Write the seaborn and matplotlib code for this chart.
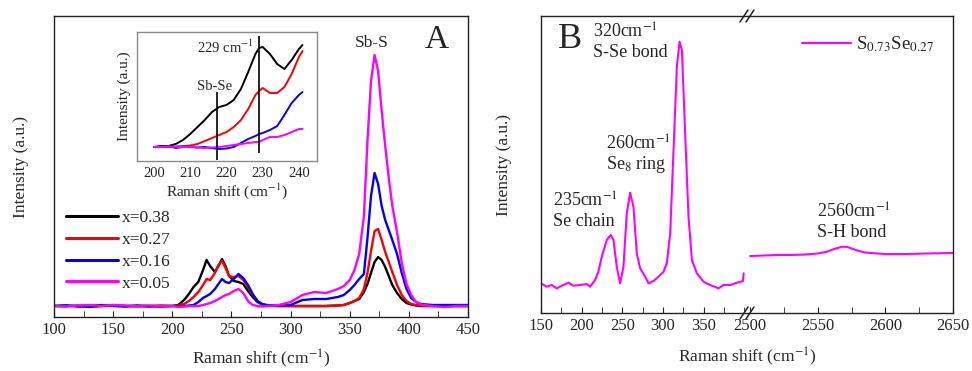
import numpy as np
import matplotlib
matplotlib.use('Agg')
import matplotlib.pyplot as plt
import seaborn as sns
from matplotlib.ticker import MultipleLocator

# ---- panel A data (Raman shift vs intensity, arbitrary units) ----
shift_a = [100, 110, 120, 130, 140, 150, 160, 170, 180, 190, 200, 205, 210, 214, 218, 222,
           226, 229, 232, 236, 239, 242, 245, 248, 252, 256, 260, 264, 268, 272, 276, 280,
           290, 300, 310, 320, 330, 340, 345, 350, 354, 358, 362, 365, 368, 371, 374, 377,
           380, 383, 386, 390, 394, 398, 402, 406, 410, 420, 430, 440, 450]
x038 = [0, 0.5, -0.5, 0, 1, 0, -0.5, 0.5, 0, -0.5, 0, 1, 6, 12, 19, 24,
        36, 46, 40, 34, 40, 47, 40, 30, 25, 24, 22, 15, 9, 4, 1.5, 0.5,
        0, 0, 0, 0, 0, 0.5, 1, 3, 5, 7, 14, 22, 33, 44, 49, 46,
        39, 30, 21, 13, 7, 3, 1.5, 0.5, 0, 0, 0, 0, 0]
x027 = [0, -0.5, 0.5, 0, 0, 1, 0, -0.5, 0, 0.5, 0, 0.5, 2, 5, 9, 14,
        21, 27, 26, 33, 41, 45, 38, 30, 29, 30, 26, 19, 11, 5, 1.5, 0.5,
        0, 0, 0, 0, 0, 0.5, 1, 3, 5, 8, 17, 33, 55, 75, 77, 66,
        54, 44, 34, 21, 11, 5, 2, 1, 0.5, 0, 0, 0, 0]
x016 = [0, 0.5, 0, -1, 0, 0.5, 0, 0, -0.5, 0, 0, 0, 0, 0.5, 1, 4,
        8, 10, 12, 17, 22, 27, 24, 23, 27, 32, 28, 21, 12, 5, 2, 1,
        0.5, 1, 6, 7, 7, 9, 11, 16, 21, 27, 32, 68, 110, 133, 122, 100,
        86, 76, 66, 52, 33, 17, 8, 4, 2, 1, 1, 1, 1]
x005 = [0, -0.5, 0.5, 1, 0, 1, 0.5, 0, 0.5, 0, 0, -1, -0.5, 0, 0, 0,
        1, 2, 3, 5, 7, 9, 11, 12, 15, 17, 13, 5, 1, 0, -0.5, 0,
        1, 4, 11, 14, 13, 17, 20, 26, 36, 52, 90, 165, 225, 251, 235, 195,
        160, 128, 100, 74, 43, 22, 11, 4, 1.5, 0, -1, 0, 0]
labels_a = ['x=0.38', 'x=0.27', 'x=0.16', 'x=0.05']
colors = ['black', '#ff0000', '#0000ff', '#ff00ff']

# ---- inset data ----
shift_in = [200, 202, 204, 206, 208, 210, 212, 214, 216, 218, 220, 222, 224, 226, 228,
            229, 230, 232, 234, 236, 238, 240, 241]
in038 = [0, 0.5, 1, 3, 7, 13, 20, 27, 35, 40, 42, 47, 58, 75, 93, 99, 100, 93, 83, 78, 87, 98, 102]
in027 = [0, 0, 0, 0.5, 1, 1.5, 3, 6, 9, 12, 15, 20, 27, 38, 52, 56, 59, 54, 54, 60, 73, 90, 96]
in016 = [0, 1, 1, -1, 0, 0, -0.5, 0, -1, -2, -1.5, 0, 4, 8, 11, 13, 14, 17, 21, 32, 44, 52, 55]
in005 = [0, 0, 0.5, 0, 0, 0, -0.5, -1, -0.5, 0, 1, 2, 3, 4, 5, 5, 7, 10, 10, 12, 15, 18, 18]
marker_lines = [217.5, 229]

# ---- panel B data (S0.73Se0.27) ----
shift_b_low = [150, 157, 163.1, 169.3, 177.5, 183.7, 189.8, 198, 206.2, 210.3, 216.5, 220.6,
               224.7, 230.9, 235.8, 239.1, 243.2, 247.3, 251.4, 255.5, 259.6, 263.7, 267.8,
               271.9, 278.1, 282.2, 288.3, 294.5, 300.7, 304.8, 308.9, 313, 317.1, 320.4,
               323.3, 327.3, 331.4, 335.6, 341.7, 349.9, 358.1, 368.4, 374.5, 382.8, 391,
               398.5, 399.2]
int_b_low = [29.7, 26.3, 28, 24.7, 28, 30.3, 27.3, 28, 29, 26.3, 33, 41.3,
             56.3, 73, 78, 73, 46.3, 29.7, 46.3, 99.7, 120.3, 106.3, 59.7,
             44.7, 36.3, 29.7, 32, 36.3, 41.3, 50, 79.7, 163, 246.3, 271.3,
             263, 179.7, 96.3, 53, 39.7, 31.3, 28, 24.7, 28, 28, 30.3,
             32, 39.7]
shift_b_high = [2500, 2510, 2520, 2530, 2540, 2550, 2556, 2562, 2568, 2572, 2578, 2585,
                2592, 2600, 2615, 2630, 2650]
int_b_high = [57, 57.5, 58, 58, 58.5, 59.5, 61, 64, 66.3, 66, 63, 60.5,
              59.7, 59, 59, 59.5, 60]

sns.set_style('ticks')
plt.rcParams['font.family'] = ['Liberation Serif', 'DejaVu Serif']
plt.rcParams['mathtext.fontset'] = 'stix'
plt.rcParams['xtick.direction'] = 'in'
plt.rcParams['ytick.direction'] = 'in'

W, H = 972, 371
fig = plt.figure(figsize=(W / 100, H / 100), dpi=100)


def px_axes(l, t, r, b):
    return fig.add_axes([l / W, 1 - b / H, (r - l) / W, (b - t) / H])


def style_frame(ax, color='#222222'):
    for s in ax.spines.values():
        s.set_color(color)
        s.set_linewidth(1.0)


# ---------- Panel A ----------
ax = px_axes(54, 16, 468, 317)
for y, lab, c in zip([x038, x027, x016, x005], labels_a, colors):
    sns.lineplot(x=shift_a, y=y, ax=ax, color=c, lw=1.7, label=lab, estimator=None)
ax.set_xlim(100, 450)
ax.set_ylim(-11, 290)
ax.set_yticks([])
ax.xaxis.set_major_locator(MultipleLocator(50))
ax.xaxis.set_minor_locator(MultipleLocator(25))
ax.tick_params(axis='x', which='both', length=4, labelsize=12, color='#222222')
ax.set_xlabel('Raman shift (cm$^{-1}$)', fontsize=12.5, labelpad=7)
ax.set_ylabel('Intensity (a.u.)', fontsize=12.5, labelpad=18)
style_frame(ax)
ax.text(368.8, 263, 'Sb-S', fontsize=12.5, ha='center', va='center')
ax.text(423.7, 266, 'A', fontsize=24, ha='center', va='center')
ax.legend(loc='upper left', bbox_to_anchor=(0.0, 0.395), frameon=False, fontsize=12.5,
          handlelength=3.0, handletextpad=0.2, labelspacing=0.32, borderaxespad=0.3)
for line in ax.get_legend().get_lines():
    line.set_linewidth(2.2)

# ---------- Inset ----------
axi = px_axes(137, 32, 317, 161)
for y, c in zip([in038, in027, in016, in005], colors):
    sns.lineplot(x=shift_in, y=y, ax=axi, color=c, lw=1.4, estimator=None)
axi.vlines(marker_lines[0], -13, 55, color='black', lw=1.2)
axi.vlines(marker_lines[1], -6, 111, color='black', lw=1.2)
axi.set_xlim(195.3, 245)
axi.set_ylim(-14, 115)
axi.set_yticks([])
axi.set_xticks([200, 210, 220, 230, 240])
axi.tick_params(axis='x', which='both', length=0, labelsize=10.5, pad=4)
axi.set_xlabel('Raman shift (cm$^{-1}$)', fontsize=11, labelpad=1)
axi.set_ylabel('Intensity (a.u.)', fontsize=11, labelpad=4)
style_frame(axi, '#8a8a8a')
axi.text(216.8, 61, 'Sb-Se', fontsize=10.5, ha='center', va='center')
axi.text(227.6, 100, '229 cm$^{-1}$', fontsize=10.5, ha='right', va='center')

# ---------- Panel B (broken axis) ----------
axl = px_axes(541, 16, 747.5, 313)
axr = px_axes(747.5, 16, 953, 313)
sns.lineplot(x=shift_b_low, y=int_b_low, ax=axl, color='#ff00ff', lw=1.5, estimator=None)
sns.lineplot(x=shift_b_high, y=int_b_high, ax=axr, color='#ff00ff', lw=1.5, estimator=None,
             label='S$_{0.73}$Se$_{0.27}$')
axl.set_xlim(150, 404)
axr.set_xlim(2498, 2650)
for a in (axl, axr):
    a.set_ylim(0, 297)
    a.set_yticks([])
    a.xaxis.set_minor_locator(MultipleLocator(25))
    a.tick_params(axis='x', which='both', length=4, labelsize=12, color='#222222')
    style_frame(a)
axl.set_xticks([150, 200, 250, 300, 350])
axr.set_xticks([2500, 2550, 2600, 2650])
axl.spines['right'].set_visible(False)
axr.spines['left'].set_visible(False)
axl.set_ylabel('Intensity (a.u.)', fontsize=12.5, labelpad=21)

# break marks "//"
for yy in (16, 313):
    for dx in (-3, 3):
        fig.add_artist(plt.Line2D([(747 + dx - 4) / W, (747 + dx + 4) / W],
                                  [1 - (yy + 6) / H, 1 - (yy - 6) / H],
                                  color='#222222', lw=1.1))

fig.text(747 / W, 1 - 357 / H, 'Raman shift (cm$^{-1}$)', fontsize=12.5, ha='center', va='center')
axl.text(185.7, 274, 'B', fontsize=26, ha='center', va='center')
axl.text(214, 281, '320cm$^{-1}$', fontsize=13, ha='left', va='center')
axl.text(214, 261, 'S-Se bond', fontsize=13, ha='left', va='center')
axl.text(230, 169, '260cm$^{-1}$', fontsize=13, ha='left', va='center')
axl.text(230, 149, 'Se$_8$ ring', fontsize=13, ha='left', va='center')
axl.text(164.8, 112, '235cm$^{-1}$', fontsize=13, ha='left', va='center')
axl.text(164.8, 92, 'Se chain', fontsize=13, ha='left', va='center')
axr.text(2549.5, 101, '2560cm$^{-1}$', fontsize=13, ha='left', va='center')
axr.text(2549.5, 81, 'S-H bond', fontsize=13, ha='left', va='center')
axr.legend(loc='upper right', frameon=False, fontsize=13.5, handlelength=2.6,
           handletextpad=0.3, borderaxespad=0.6)

fig.savefig('out.png', dpi=100)
